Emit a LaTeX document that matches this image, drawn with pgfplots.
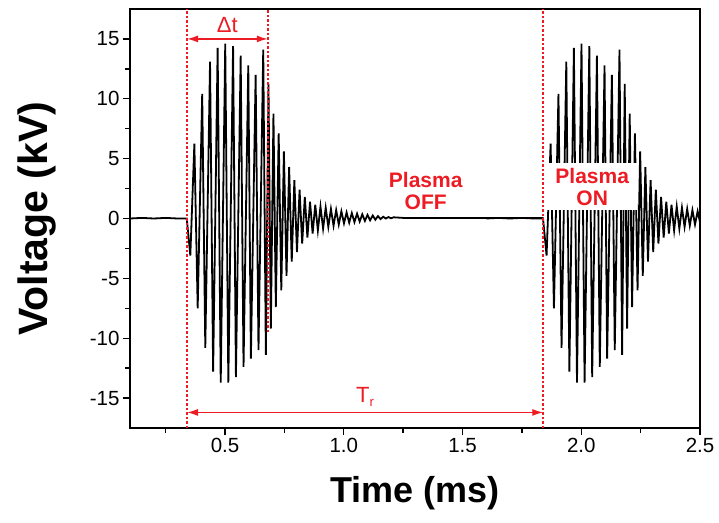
\documentclass[border=0pt]{standalone}
\usepackage{fontspec}
\setmainfont{Liberation Sans}
\usepackage{pgfplots}
\pgfplotsset{compat=1.18}
\usepackage{pgfplotstable}
\usetikzlibrary{arrows.meta}
\definecolor{myred}{RGB}{237,28,36}
\pgfplotstableread{
t v
0.10 0.0
0.15 0.05
0.20 0.0
0.25 0.05
0.30 0.0
0.339 0.0
0.354 -3.1
0.371 6.25
0.385 -7.5
0.404 10.4
0.417 -10.8
0.437 13.1
0.450 -12.8
0.469 14.25
0.482 -13.7
0.501 14.6
0.514 -13.7
0.534 14.4
0.546 -13.25
0.566 13.6
0.578 -12.4
0.598 12.8
0.609 -11.7
0.629 12.0
0.641 -11.0
0.661 14.1
0.672 -11.4
0.683 11.25
0.693 -9.2
0.704 8.75
0.714 -7.4
0.726 7.1
0.737 -6.0
0.748 5.6
0.759 -4.8
0.770 4.3
0.781 -3.6
0.792 3.2
0.803 -2.8
0.814 2.4
0.825 -2.1
0.836 1.8
0.847 -1.6
0.858 1.4
0.869 -1.25
0.880 1.15
0.891 -1.0
0.902 1.0
0.913 -0.85
0.924 0.9
0.935 -0.7
0.946 0.8
0.957 -0.6
0.968 0.7
0.979 -0.5
0.990 0.6
1.001 -0.4
1.012 0.5
1.023 -0.35
1.034 0.45
1.045 -0.3
1.056 0.4
1.067 -0.25
1.078 0.35
1.089 -0.2
1.100 0.3
1.111 -0.15
1.122 0.25
1.133 -0.1
1.144 0.2
1.155 -0.05
1.166 0.15
1.177 0.0
1.188 0.12
1.199 0.02
1.21 0.1
1.25 0.05
1.84 0.05
}\burst
\begin{document}
\begin{tikzpicture}[x=1pt,y=1pt]
\useasboundingbox (0,0) rectangle (719,522);
\begin{axis}[
  at={(130pt,94pt)}, anchor=south west,
  scale only axis, width=570pt, height=419pt,
  xmin=0.1, xmax=2.5, ymin=-17.5, ymax=17.5,
  xtick={0.5,1.0,1.5,2.0,2.5},
  xticklabels={0.5,1.0,1.5,2.0,2.5},
  minor xtick={0.25,0.75,1.25,1.75,2.25},
  ytick={-15,-10,-5,0,5,10,15},
  minor ytick={-12.5,-7.5,-2.5,2.5,7.5,12.5},
  tick align=outside, major tick length=7pt, minor tick length=4.5pt,
  xtick pos=bottom, ytick pos=left,
  axis line style={line width=1.5pt},
  every tick/.style={black, line width=1.3pt},
  tick label style={font=\fontsize{20.5}{24}\selectfont},
  /pgf/number format/assume math mode=true,
  xlabel={Time (ms)}, ylabel={Voltage (kV)},
  xlabel style={font=\bfseries\fontsize{36}{40}\selectfont, at={(axis description cs:0.5,-0.155)}, anchor=center},
  ylabel style={font=\bfseries\fontsize{41}{45}\selectfont, at={(axis description cs:-0.163,0.5)}, anchor=center},
]
\addplot[black, line width=1.8pt, no markers] table[x=t, y=v] {\burst};
\addplot[black, line width=1.8pt, no markers] table[x expr=\thisrow{t}+1.5, y=v] {\burst};
\fill[white] (axis cs:1.857,0.67) rectangle (axis cs:2.235,4.6);
\node[myred, font=\bfseries\fontsize{21}{22}\selectfont, align=center] at (axis cs:2.046,2.63) {Plasma\\ON};
\node[myred, font=\bfseries\fontsize{21}{22}\selectfont, align=center] at (axis cs:1.345,2.33) {Plasma\\OFF};
\draw[myred, line width=1.8pt, dash pattern=on 2.5pt off 2pt] (axis cs:0.34,-17.5) -- (axis cs:0.34,17.5);
\draw[myred, line width=1.8pt, dash pattern=on 2.5pt off 2pt] (axis cs:0.68,-9.5) -- (axis cs:0.68,17.5);
\draw[myred, line width=1.8pt, dash pattern=on 2.5pt off 2pt] (axis cs:1.84,-17.5) -- (axis cs:1.84,17.5);
\draw[myred, line width=1.4pt, {Latex[length=11pt,width=7pt]}-{Latex[length=11pt,width=7pt]}] (axis cs:0.34,15) -- (axis cs:0.68,15);
\draw[myred, line width=1.4pt, {Latex[length=11pt,width=7pt]}-{Latex[length=11pt,width=7pt]}] (axis cs:0.34,-16.2) -- (axis cs:1.84,-16.2);
\node[myred, anchor=south, font=\fontsize{22}{26}\selectfont, inner sep=1pt] at (axis cs:0.51,15.4) {Δt};
\node[myred, anchor=south, font=\fontsize{22}{26}\selectfont, inner sep=1pt] at (axis cs:1.09,-15.8) {T\raisebox{-0.35ex}{\fontsize{13}{15}\selectfont r}};
\end{axis}
\end{tikzpicture}
\end{document}
